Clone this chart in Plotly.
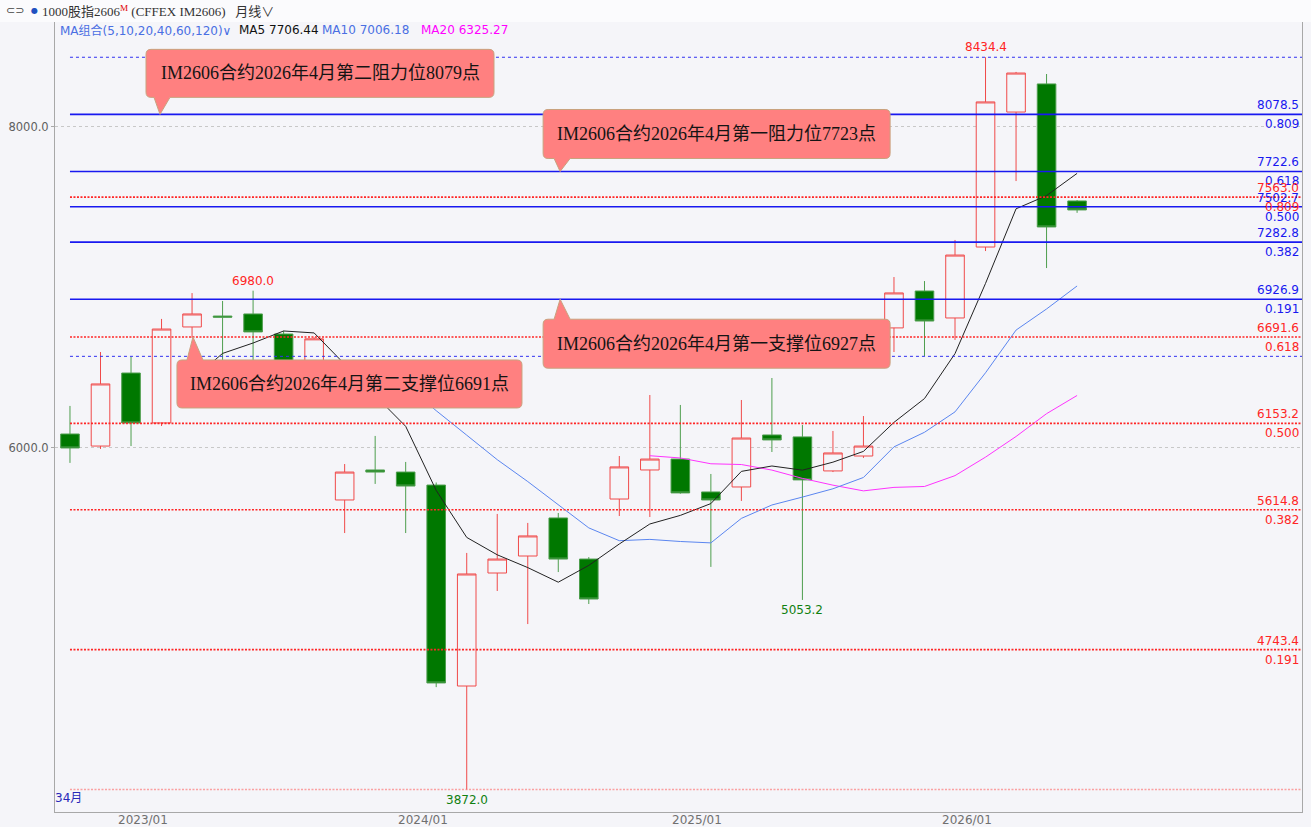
import plotly.graph_objects as go

# ---------------- data ----------------
bar_index = list(range(1, 35))          # 34 monthly bars
opens = [6087, 6012, 6467, 6156, 6754, 6822, 6835, 6710, 6531, 5676,
         5863, 5850, 5769, 4517, 5221, 5327, 5564, 5308, 5682, 5863,
         5931, 5726, 5757, 6081, 6069, 5857, 5950, 6748, 6978, 6810,
         7252, 8093, 8268, 7539]
highs = [6262, 6598, 6567, 6804, 6965, 6916, 6980, 6730, 6690, 5900,
         6075, 5913, 5785, 5346, 5589, 5533, 5595, 5320, 5950, 6330,
         6268, 5838, 6299, 6436, 6143, 6106, 6199, 7065, 7040, 7296,
         8434.4, 8343, 8330, 7545]
lows = [5907, 5994, 6012, 6137, 6685, 6530, 6540, 6460, 6480, 5470,
        5776, 5470, 4510, 3872.0, 5109, 4903, 5227, 5028, 5576, 5570,
        5715, 5259, 5670, 5975, 5053.2, 5850, 5938, 6598, 6573, 6673,
        7227, 7663, 7121, 7465]
closes = [6000, 6399, 6156, 6741, 6835, 6815, 6723, 6531, 6680, 5850,
          5850, 5763, 4536, 5215, 5308, 5452, 5308, 5059, 5882, 5931,
          5720, 5676, 6062, 6050, 5801, 5969, 6012, 6966, 6791, 7202,
          8156, 8336, 7377, 7483]

ma5 = [None] * 4 + [6426.2, 6589.2, 6654.0, 6729.0, 6716.8, 6519.8, 6326.8, 6134.8,
                    5735.8, 5442.8, 5334.4, 5254.8, 5163.8, 5268.4, 5401.8, 5526.4,
                    5580.0, 5653.6, 5854.2, 5887.8, 5861.8, 5911.6, 5978.8, 6159.6,
                    6307.8, 6588.0, 7025.4, 7490.2, 7572.4, 7710.8]
ma10 = [None] * 9 + [6473.0, 6458.0, 6394.4, 6232.4, 6079.8, 5927.1, 5790.8, 5649.3,
                     5502.1, 5422.3, 5430.4, 5417.4, 5408.7, 5561.3, 5644.8, 5694.1,
                     5745.8, 5816.2, 6006.9, 6097.8, 6224.9, 6468.5, 6734.5, 6866.0,
                     7009.3]
ma20 = [None] * 19 + [5951.7, 5937.7, 5901.6, 5896.9, 5862.3, 5810.6, 5768.3, 5732.8,
                      5754.5, 5760.1, 5827.7, 5943.0, 6071.6, 6213.7, 6327.1]

x_tick_labels = ["2023/01", "2024/01", "2025/01", "2026/01"]
y_tick_values = [6000, 8000]
y_tick_labels = ["6000.0", "8000.0"]

blue_fib_levels = [8078.5, 7722.6, 7502.7, 7282.8, 6926.9]
blue_fib_ratios = ["0.809", "0.618", "0.500", "0.382", "0.191"]
blue_fib_high = 8434.4
blue_fib_low = 6571.0
red_fib_levels = [7563.0, 6691.6, 6153.2, 5614.8, 4743.4]
red_fib_ratios = ["0.809", "0.618", "0.500", "0.382", "0.191"]
red_fib_low = 3872.0

marked_high_bars = [7, 31]
marked_low_bars = [14, 25]

callout_texts = ["IM2606合约2026年4月第二阻力位8079点",
                 "IM2606合约2026年4月第一阻力位7723点",
                 "IM2606合约2026年4月第一支撑位6927点",
                 "IM2606合约2026年4月第二支撑位6691点"]
callout_levels = [8078.5, 7722.6, 6926.9, 6691.6]

header_ma_text = ["MA组合(5,10,20,40,60,120)∨", "MA5 7706.44", "MA10 7006.18", "MA20 6325.27"]

# ---------------- layout constants ----------------
W, H = 1311, 827
ML, MR, MT, MB = 55, 9, 22, 15
PW, PH = W - ML - MR, H - MT - MB
X_RANGE = [0.509, 41.37]
Y_RANGE = [3732, 8654]
x_tick_pos = [3.39, 12.57, 21.55, 30.39]

def px_x(px):
    return (px - ML) / PW

def px_y(py):
    return (H - MB - py) / PH

NUMFONT = "DejaVu Sans"
RED = "#FF2525"
BLUE = "#1818F0"

fig = go.Figure()

fig.add_trace(go.Candlestick(
    x=bar_index, open=opens, high=highs, low=lows, close=closes,
    increasing=dict(line=dict(color="#F04A4A", width=1), fillcolor="#F5F5F9"),
    decreasing=dict(line=dict(color="#4E9E4E", width=1), fillcolor="#007800"),
    whiskerwidth=0, hoverinfo="skip", showlegend=False))

fig.add_trace(go.Scatter(x=bar_index, y=ma20, mode="lines",
                         line=dict(color="#FF33FF", width=1), hoverinfo="skip", showlegend=False))
fig.add_trace(go.Scatter(x=bar_index, y=ma10, mode="lines",
                         line=dict(color="#5B86F0", width=1), hoverinfo="skip", showlegend=False))
fig.add_trace(go.Scatter(x=bar_index, y=ma5, mode="lines",
                         line=dict(color="#222222", width=1), hoverinfo="skip", showlegend=False))

shapes = []
annotations = []

# header band
shapes.append(dict(type="rect", xref="paper", yref="paper", x0=-ML / PW, x1=1 + MR / PW,
                   y0=1, y1=1 + MT / PH, fillcolor="#FBFBFD", line=dict(width=0), layer="below"))

def hline(y, color, width, dash):
    shapes.append(dict(type="line", xref="x", yref="y", x0=1, x1=X_RANGE[1], y0=y, y1=y,
                       line=dict(color=color, width=width, dash=dash), layer="above"))

# fib lines
hline(blue_fib_high, "#3030F0", 1, "3px,3px")
hline(blue_fib_low, "#3030F0", 1, "3px,3px")
hline(red_fib_low, "rgba(255,90,90,0.55)", 1.6, "2px,1.5px")
for lv in red_fib_levels:
    hline(lv, RED, 1.6, "2px,1.5px")
for lv in blue_fib_levels:
    hline(lv, BLUE, 1.6, "solid")

# right side labels
for lv, rt in zip(blue_fib_levels, blue_fib_ratios):
    annotations.append(dict(xref="paper", yref="y", x=1, y=lv, xanchor="right", yanchor="bottom",
                            text=f"{lv:.1f}", showarrow=False, xshift=-1, yshift=0,
                            font=dict(family=NUMFONT, size=12, color=BLUE)))
    annotations.append(dict(xref="paper", yref="y", x=1, y=lv, xanchor="right", yanchor="top",
                            text=rt, showarrow=False, xshift=-1, yshift=-1,
                            font=dict(family=NUMFONT, size=12, color=BLUE)))
for lv, rt in zip(red_fib_levels, red_fib_ratios):
    annotations.append(dict(xref="paper", yref="y", x=1, y=lv, xanchor="right", yanchor="bottom",
                            text=f"{lv:.1f}", showarrow=False, xshift=-1, yshift=0,
                            font=dict(family=NUMFONT, size=12, color=RED)))
    annotations.append(dict(xref="paper", yref="y", x=1, y=lv, xanchor="right", yanchor="top",
                            text=rt, showarrow=False, xshift=-1, yshift=-1,
                            font=dict(family=NUMFONT, size=12, color=RED)))

# high / low markers
for b in marked_high_bars:
    annotations.append(dict(xref="x", yref="y", x=b, y=highs[b - 1], xanchor="center", yanchor="bottom",
                            text=f"{highs[b - 1]:.1f}", showarrow=False, yshift=1,
                            font=dict(family=NUMFONT, size=12, color=RED)))
for b in marked_low_bars:
    annotations.append(dict(xref="x", yref="y", x=b, y=lows[b - 1], xanchor="center", yanchor="top",
                            text=f"{lows[b - 1]:.1f}", showarrow=False, yshift=-1,
                            font=dict(family=NUMFONT, size=12, color="#108010")))

# x-axis date labels (drawn just below the axis line)
for pos, lab in zip(x_tick_pos, x_tick_labels):
    annotations.append(dict(xref="x", yref="paper", x=pos, y=0, xanchor="center", yanchor="top",
                            text=lab, showarrow=False, yshift=1,
                            font=dict(family=NUMFONT, size=12, color="#707070")))

# callouts (speech bubbles) – pixel offsets relative to the pointer tip
callout_layout = [  # tip x (bar units), box L, R, B, T (px, y up), pointer up?
    (3.95, -14, 334, 17, 65, False),
    (17.06, -17, 330, 13, 62, False),
    (17.06, -17, 330, -69, -20, True),
    (5.03, -16, 329, -71, -23, True),
]

def bubble_path(L, R, B, T, up):
    r = 5
    p = f"M{L + r},{T} "
    if up:
        p += f"L-6,{T} L0,0 L10,{T} "
    p += f"L{R - r},{T} Q{R},{T} {R},{T - r} L{R},{B + r} Q{R},{B} {R - r},{B} "
    if not up:
        p += f"L10,{B} L0,0 L-6,{B} "
    p += f"L{L + r},{B} Q{L},{B} {L},{B + r} L{L},{T - r} Q{L},{T} {L + r},{T} Z"
    return p

for txt, lv, (tx, L, R, B, T, up) in zip(callout_texts, callout_levels, callout_layout):
    shapes.append(dict(type="path", xref="x", yref="y", xsizemode="pixel", ysizemode="pixel",
                       xanchor=tx, yanchor=lv, path=bubble_path(L, R, B, T, up),
                       fillcolor="#FF8080", line=dict(color="#C9A27E", width=1), layer="above"))
    annotations.append(dict(xref="x", yref="y", x=tx, y=lv, xanchor="center", yanchor="middle",
                            xshift=(L + R) / 2, yshift=(T + B) / 2, text=txt, showarrow=False,
                            font=dict(family="Liberation Serif, Noto Sans CJK SC", size=18,
                                      color="#141414")))

# header texts
annotations.append(dict(xref="paper", yref="paper", x=px_x(4), y=px_y(11), xanchor="left",
                        yanchor="middle", showarrow=False, text="⊂⊃",
                        font=dict(family="DejaVu Sans", size=11, color="#444444")))
annotations.append(dict(xref="paper", yref="paper", x=px_x(29), y=px_y(11), xanchor="left",
                        yanchor="middle", showarrow=False, text="●",
                        font=dict(family="DejaVu Sans", size=8, color="#2050C0")))
annotations.append(dict(xref="paper", yref="paper", x=px_x(40), y=px_y(11), xanchor="left",
                        yanchor="middle", showarrow=False,
                        text="1000股指2606<sup><span style='color:#E00000'>M</span></sup> (CFFEX IM2606)   月线∨",
                        font=dict(family="Liberation Serif, Noto Sans CJK SC", size=13, color="#333333")))

ma_cols = ["#4A6FE3", "#111111", "#4A6FE3", "#FF00FF"]
ma_x = [58, 237, 320, 419]
for t, c, xx in zip(header_ma_text, ma_cols, ma_x):
    annotations.append(dict(xref="paper", yref="paper", x=px_x(xx), y=px_y(30), xanchor="left",
                            yanchor="middle", showarrow=False, text=t,
                            font=dict(family="DejaVu Sans, Noto Sans CJK SC", size=12, color=c)))

annotations.append(dict(xref="paper", yref="paper", x=0, y=0, xanchor="left", yanchor="bottom",
                        showarrow=False, text="34月", yshift=5, xshift=-2,
                        font=dict(family="DejaVu Sans, Noto Sans CJK SC", size=12, color="#2828B8")))

fig.update_layout(
    width=W, height=H,
    margin=dict(l=ML, r=MR, t=MT, b=MB, pad=0, autoexpand=False),
    paper_bgcolor="#F5F5F9", plot_bgcolor="#F5F5F9",
    showlegend=False, hovermode=False,
    boxgap=0.13,
    shapes=shapes, annotations=annotations,
    xaxis=dict(range=X_RANGE, rangeslider=dict(visible=False), showgrid=False, zeroline=False,
               showticklabels=False, ticks="",
               showline=True, linecolor="#A8A8A8", linewidth=1, automargin=False, fixedrange=True),
    yaxis=dict(range=Y_RANGE, tickmode="array", tickvals=y_tick_values, ticktext=y_tick_labels,
               ticks="outside", ticklen=3, tickcolor="#A8A8A8", automargin=False,
               showgrid=True, gridcolor="#C8C8C8", griddash="3px,3px", gridwidth=1, zeroline=False,
               showline=True, linecolor="#A8A8A8", linewidth=1, mirror=True,
               tickfont=dict(family=NUMFONT, size=11.5, color="#606060"), fixedrange=True),
)

fig.write_html("out.html", include_plotlyjs=True, config={"displayModeBar": False},
               post_script="document.body.style.margin='0';document.body.style.overflow='hidden';")
